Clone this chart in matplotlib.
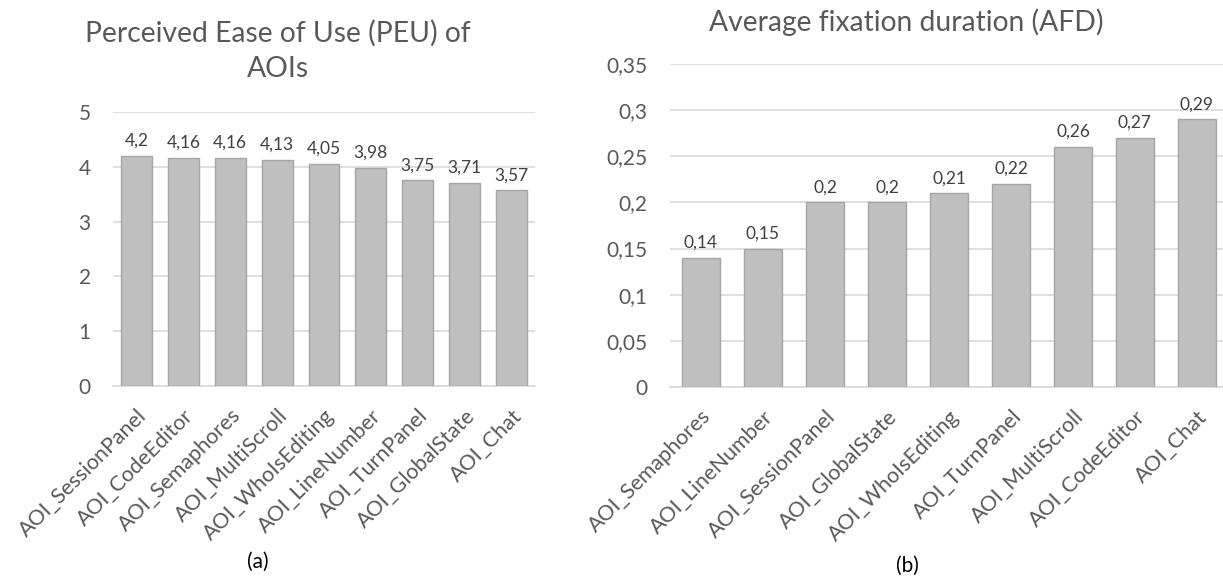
import matplotlib
matplotlib.use("Agg")
import matplotlib.pyplot as plt

plt.rcParams['font.family'] = ['Lato', 'DejaVu Sans']

peu_labels = ["AOI_SessionPanel", "AOI_CodeEditor", "AOI_Semaphores", "AOI_MultiScroll",
              "AOI_WhoIsEditing", "AOI_LineNumber", "AOI_TurnPanel", "AOI_GlobalState", "AOI_Chat"]
peu_values = [4.2, 4.16, 4.16, 4.13, 4.05, 3.98, 3.75, 3.71, 3.57]
peu_ticks = [0, 1, 2, 3, 4, 5]

afd_labels = ["AOI_Semaphores", "AOI_LineNumber", "AOI_SessionPanel", "AOI_GlobalState",
              "AOI_WhoIsEditing", "AOI_TurnPanel", "AOI_MultiScroll", "AOI_CodeEditor", "AOI_Chat"]
afd_values = [0.14, 0.15, 0.2, 0.2, 0.21, 0.22, 0.26, 0.27, 0.29]
afd_ticks = [0, 0.05, 0.1, 0.15, 0.2, 0.25, 0.3, 0.35]

W, H = 1223, 581
fig = plt.figure(figsize=(W / 100, H / 100), dpi=100)

def fmt(v):
    s = ('%.2f' % v).rstrip('0').rstrip('.')
    return s.replace('.', ',')

text_col = '#595959'
bar_col = '#BFBFBF'
edge_col = '#A5A5A5'
grid_col = '#D9D9D9'

def draw(ax, labels, values, ticks, ymax, barw):
    x = range(len(values))
    ax.bar(x, values, width=barw, color=bar_col, edgecolor=edge_col, linewidth=1, zorder=3)
    ax.set_xlim(-0.5, len(values) - 0.5)
    ax.set_ylim(0, ymax)
    ax.set_yticks(ticks)
    ax.set_yticklabels([fmt(t) for t in ticks], fontsize=15, color=text_col)
    ax.yaxis.grid(True, color=grid_col, linewidth=1.2, zorder=0)
    ax.set_axisbelow(True)
    for s in ['top', 'right', 'left']:
        ax.spines[s].set_visible(False)
    ax.spines['bottom'].set_color(grid_col)
    ax.spines['bottom'].set_linewidth(1.2)
    ax.tick_params(axis='both', length=0)
    ax.tick_params(axis='y', pad=16)
    ax.set_xticks(list(x))
    ax.set_xticklabels(labels, rotation=45, ha='right', rotation_mode='anchor',
                       fontsize=15.5, color=text_col)
    ax.tick_params(axis='x', pad=14)
    for xi, v in zip(x, values):
        ax.annotate(fmt(v), (xi, v), xytext=(0, 5), textcoords='offset points',
                    ha='center', va='bottom', fontsize=12.5, color='#404040')

axL = fig.add_axes([113 / W, 1 - 386 / H, 422 / W, 274 / H])
draw(axL, peu_labels, peu_values, peu_ticks, 5, 0.66)
fig.text(278 / W, 1 - 51 / H, "Perceived Ease of Use (PEU) of\nAOIs", ha='center', va='center',
         fontsize=20.3, color=text_col, linespacing=1.45)

axR = fig.add_axes([670 / W, 1 - 387 / H, 558 / W, 323 / H])
draw(axR, afd_labels, afd_values, afd_ticks, 0.35, 0.61)
fig.text(906 / W, 1 - 22 / H, "Average fixation duration (AFD)", ha='center', va='center',
         fontsize=20.3, color=text_col)

fig.text(258 / W, 1 - 562 / H, "(a)", ha='center', va='center', fontsize=15, color='black')
fig.text(907 / W, 1 - 566 / H, "(b)", ha='center', va='center', fontsize=15, color='black')

fig.savefig("out.png", dpi=100, facecolor='white')
